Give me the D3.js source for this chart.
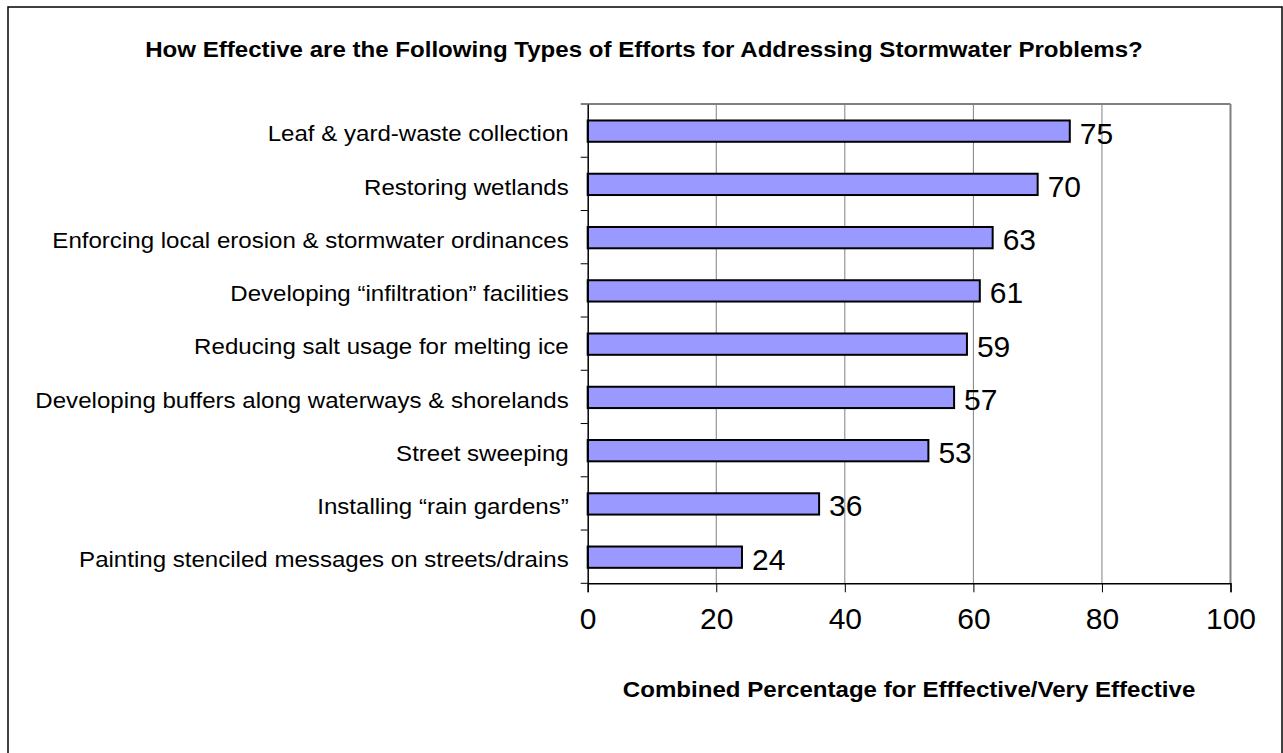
<!DOCTYPE html>
<html>
<head>
<meta charset="utf-8">
<script src="https://cdn.jsdelivr.net/npm/d3@7"></script>
<style>
  html, body { margin: 0; padding: 0; background: #fff; }
  svg { display: block; }
  text { font-family: Arial, "Liberation Sans", sans-serif; fill: #000; }
</style>
</head>
<body>
<svg id="chart" width="1283" height="753"></svg>
<script>
const categories = [
  "Leaf & yard-waste collection",
  "Restoring wetlands",
  "Enforcing local erosion & stormwater ordinances",
  "Developing \u201cinfiltration\u201d facilities",
  "Reducing salt usage for melting ice",
  "Developing buffers along waterways & shorelands",
  "Street sweeping",
  "Installing \u201crain gardens\u201d",
  "Painting stenciled messages on streets/drains"
];
const values = [75, 70, 63, 61, 59, 57, 53, 36, 24];
const xTicks = [0, 20, 40, 60, 80, 100];
const title = "How Effective are the Following Types of Efforts for Addressing Stormwater Problems?";
const xTitle = "Combined Percentage for Efffective/Very Effective";

const svg = d3.select("#chart");
const plot = { left: 587.7, right: 1230.5, top: 104, bottom: 583.3 };
const SX = 1.095; // horizontal stretch of text in the reference

// outer frame
svg.append("rect")
  .attr("x", 8).attr("y", 7)
  .attr("width", 1274).attr("height", 760)
  .attr("fill", "#fff").attr("stroke", "#000").attr("stroke-width", 1.5);

const x = d3.scaleLinear().domain([0, 100]).range([plot.left, plot.right]);
const y = d3.scaleBand().domain(categories).range([plot.top, plot.bottom]).padding(0);

// gridlines
svg.append("g").selectAll("line")
  .data(xTicks.filter(d => d > 0 && d < 100))
  .join("line")
  .attr("x1", d => x(d)).attr("x2", d => x(d))
  .attr("y1", plot.top).attr("y2", plot.bottom)
  .attr("stroke", "#808080").attr("stroke-width", 1);

// plot border top & right (gray)
svg.append("line").attr("x1", plot.left).attr("x2", plot.right)
  .attr("y1", plot.top).attr("y2", plot.top)
  .attr("stroke", "#808080").attr("stroke-width", 2);
svg.append("line").attr("x1", plot.right).attr("x2", plot.right)
  .attr("y1", plot.top).attr("y2", plot.bottom)
  .attr("stroke", "#808080").attr("stroke-width", 2);

// bars
const barH = y.bandwidth() * 0.40;
svg.append("g").selectAll("rect")
  .data(values)
  .join("rect")
  .attr("x", x(0))
  .attr("y", (d, i) => y(categories[i]) + y.bandwidth() / 2 - barH / 2 + 0.5)
  .attr("width", d => x(d) - x(0))
  .attr("height", barH)
  .attr("fill", "#9999FF")
  .attr("stroke", "#000").attr("stroke-width", 2);

// data labels
svg.append("g").selectAll("text")
  .data(values)
  .join("text")
  .attr("x", d => x(d) + 10)
  .attr("y", (d, i) => y(categories[i]) + y.bandwidth() / 2 + 13)
  .attr("font-size", 30)
  .text(d => d);

// x axis
const xAxis = d3.axisBottom(x).tickValues(xTicks).tickSize(9).tickPadding(15).tickFormat(d3.format("d"));
const gx = svg.append("g").attr("transform", `translate(0,${plot.bottom})`).call(xAxis);
gx.select(".domain").attr("stroke", "#000").attr("stroke-width", 1.5);
gx.selectAll(".tick line").attr("stroke", "#000").attr("stroke-width", 1);
gx.selectAll(".tick text").attr("font-size", 30).attr("font-family", "Arial, 'Liberation Sans', sans-serif").attr("fill", "#000");

// y axis
const yAxis = d3.axisLeft(y).tickSize(0).tickPadding(19);
const gy = svg.append("g").attr("transform", `translate(${plot.left},0)`).call(yAxis);
gy.select(".domain").attr("stroke", "#000").attr("stroke-width", 1.5);
gy.selectAll(".tick text").attr("font-size", 22).attr("dy", "0.35em")
  .attr("x", -19 / SX)
  .attr("transform", `translate(0,3) scale(${SX},1)`)
  .attr("font-family", "Arial, 'Liberation Sans', sans-serif").attr("fill", "#000");
// boundary ticks between categories
const bounds = categories.map(c => y(c)).concat([plot.bottom]);
svg.append("g").selectAll("line")
  .data(bounds)
  .join("line")
  .attr("x1", plot.left - 7).attr("x2", plot.left)
  .attr("y1", d => d).attr("y2", d => d)
  .attr("stroke", "#000").attr("stroke-width", 1);

// title
svg.append("g").attr("transform", "translate(644,56.5)")
  .append("text")
  .attr("transform", `scale(${SX},1)`)
  .attr("text-anchor", "middle")
  .attr("font-size", 22).attr("font-weight", "bold")
  .text(title);

// x axis title
svg.append("g").attr("transform", `translate(${(plot.left + plot.right) / 2},697)`)
  .append("text")
  .attr("transform", `scale(${SX},1)`)
  .attr("text-anchor", "middle")
  .attr("font-size", 22).attr("font-weight", "bold")
  .text(xTitle);
</script>
</body>
</html>
